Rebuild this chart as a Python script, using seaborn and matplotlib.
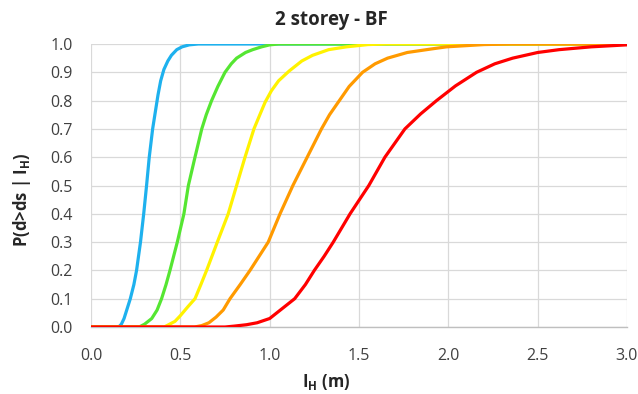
import matplotlib
matplotlib.use("Agg")
import matplotlib.pyplot as plt
import numpy as np
import pandas as pd
import seaborn as sns

# damage states, light to heavy
STATES = ["DS1", "DS2", "DS3", "DS4", "DS5"]
COLORS = ["#1EB1EE", "#55E632", "#FFF200", "#FF9A00", "#FF0000"]

ds1_x = [0.0, 0.155, 0.17, 0.185, 0.2, 0.22, 0.24, 0.255, 0.277, 0.295, 0.311, 0.326, 0.345,
         0.36, 0.375, 0.39, 0.408, 0.43, 0.45, 0.48, 0.51, 0.55, 0.6, 3.0]
ds1_y = [0.0, 0.0, 0.01, 0.03, 0.06, 0.1, 0.15, 0.2, 0.3, 0.4, 0.5, 0.6, 0.7,
         0.76, 0.82, 0.87, 0.91, 0.94, 0.96, 0.98, 0.99, 0.997, 1.0, 1.0]

ds2_x = [0.0, 0.27, 0.3, 0.34, 0.37, 0.395, 0.42, 0.442, 0.483, 0.52, 0.545, 0.582, 0.62,
         0.645, 0.675, 0.71, 0.75, 0.785, 0.815, 0.865, 0.905, 0.955, 1.0, 1.05, 3.0]
ds2_y = [0.0, 0.0, 0.01, 0.03, 0.06, 0.1, 0.15, 0.2, 0.3, 0.4, 0.5, 0.6, 0.7,
         0.75, 0.8, 0.85, 0.9, 0.93, 0.95, 0.97, 0.98, 0.99, 0.997, 1.0, 1.0]

ds3_x = [0.0, 0.41, 0.44, 0.47, 0.5, 0.54, 0.582, 0.615, 0.647, 0.707, 0.768, 0.815, 0.862,
         0.912, 0.945, 0.975, 1.01, 1.05, 1.11, 1.18, 1.24, 1.33, 1.43, 1.55, 1.65, 3.0]
ds3_y = [0.0, 0.0, 0.01, 0.02, 0.04, 0.07, 0.1, 0.15, 0.2, 0.3, 0.4, 0.5, 0.6,
         0.7, 0.75, 0.795, 0.835, 0.87, 0.905, 0.94, 0.96, 0.98, 0.99, 0.998, 1.0, 1.0]

ds4_x = [0.0, 0.58, 0.62, 0.66, 0.7, 0.74, 0.778, 0.835, 0.89, 0.992, 1.058, 1.13, 1.21,
         1.29, 1.335, 1.39, 1.445, 1.52, 1.59, 1.66, 1.77, 1.9, 1.99, 2.2, 2.35, 3.0]
ds4_y = [0.0, 0.0, 0.005, 0.015, 0.035, 0.06, 0.1, 0.15, 0.2, 0.3, 0.4, 0.5, 0.6,
         0.7, 0.75, 0.8, 0.85, 0.9, 0.93, 0.95, 0.97, 0.982, 0.99, 0.998, 1.0, 1.0]

ds5_x = [0.0, 0.75, 0.8, 0.87, 0.93, 1.0, 1.06, 1.1, 1.14, 1.2, 1.25, 1.305, 1.356, 1.45,
         1.555, 1.645, 1.757, 1.845, 1.934, 2.04, 2.158, 2.26, 2.36, 2.5, 2.62, 2.8, 3.0]
ds5_y = [0.0, 0.0, 0.003, 0.008, 0.015, 0.03, 0.06, 0.08, 0.1, 0.15, 0.2, 0.25, 0.3, 0.4,
         0.5, 0.6, 0.7, 0.753, 0.8, 0.852, 0.9, 0.93, 0.95, 0.97, 0.98, 0.99, 0.997]

X_TICKS = [0.0, 0.5, 1.0, 1.5, 2.0, 2.5, 3.0]
Y_TICKS = [0.0, 0.1, 0.2, 0.3, 0.4, 0.5, 0.6, 0.7, 0.8, 0.9, 1.0]

sns.set_theme(style="white")
plt.rcParams["font.family"] = ["Open Sans", "DejaVu Sans"]
plt.rcParams["mathtext.fontset"] = "custom"
plt.rcParams["mathtext.rm"] = "Open Sans"
plt.rcParams["mathtext.bf"] = "Open Sans:bold"

curves = [(ds1_x, ds1_y), (ds2_x, ds2_y), (ds3_x, ds3_y), (ds4_x, ds4_y), (ds5_x, ds5_y)]
df = pd.concat(
    [pd.DataFrame({"IH": x, "P": y, "ds": s}) for s, (x, y) in zip(STATES, curves)],
    ignore_index=True,
)

fig = plt.figure(figsize=(6.38, 3.94), dpi=100)
ax = fig.add_axes([91 / 638, 67 / 394, 536 / 638, 283 / 394])

sns.lineplot(data=df, x="IH", y="P", hue="ds", hue_order=STATES,
             palette=dict(zip(STATES, COLORS)), sort=False, estimator=None,
             legend=False, linewidth=2.3, ax=ax, zorder=3,
             solid_joinstyle="round", solid_capstyle="round")

ax.set_xlim(0, 3.0)
ax.set_ylim(0, 1.0)
ax.set_xticks(X_TICKS)
ax.set_yticks(Y_TICKS)
ax.set_xticklabels([f"{v:.1f}" for v in X_TICKS])
ax.set_yticklabels([f"{v:.1f}" for v in Y_TICKS])
ax.grid(True, color="#D9D9D9", linewidth=0.9, zorder=0)
ax.set_axisbelow(True)

for side in ["top", "right", "left"]:
    ax.spines[side].set_visible(False)
ax.spines["bottom"].set_color("#BFBFBF")
ax.spines["bottom"].set_linewidth(1.0)
ax.tick_params(axis="x", direction="out", length=4, width=1.0, color="#BFBFBF",
               pad=11, labelsize=11.5, labelcolor="#404040")
ax.tick_params(axis="y", length=0, pad=13, labelsize=11.5, labelcolor="#404040")

ax.set_xlabel(r"I$_{\mathbf{H}}$ (m)", fontsize=12, fontweight="bold", color="#262626")
ax.set_ylabel(r"P(d>ds | I$_{\mathbf{H}}$)", fontsize=12, fontweight="bold", color="#262626")
ax.xaxis.set_label_coords(0.438, -0.159)
ax.yaxis.set_label_coords(-0.108, 0.45)

fig.text(331 / 638, 0.949, "2 storey - BF", ha="center", va="center",
         fontsize=13.5, fontweight="bold", color="#262626")

fig.savefig("out.png", dpi=100)
